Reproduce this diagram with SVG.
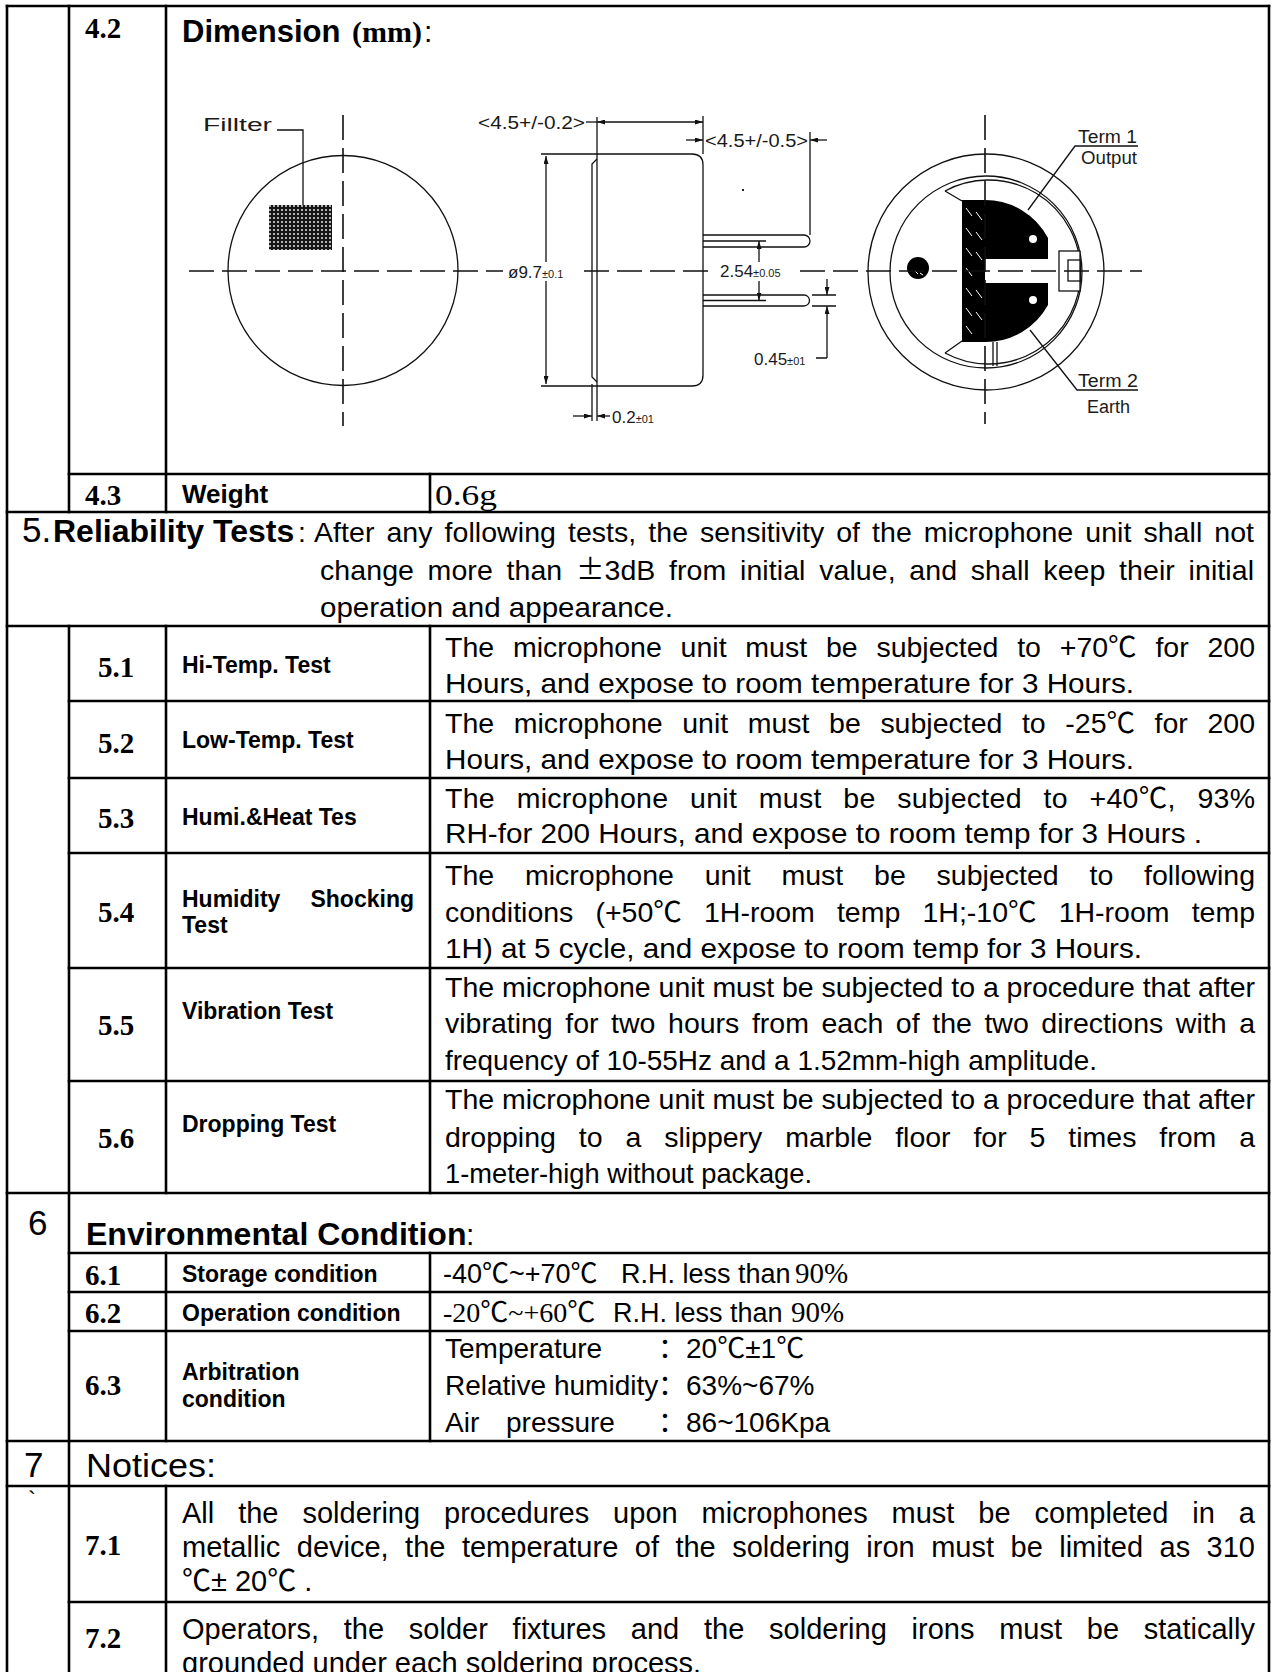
<svg xmlns="http://www.w3.org/2000/svg" width="1272" height="1672" viewBox="0 0 1272 1672">
<defs>
<style>
.grid{stroke:#000;stroke-width:2.6;fill:none;stroke-linecap:square}
.d{stroke:#111;stroke-width:1.3;fill:none}
.dash{stroke:#111;stroke-width:1.6;fill:none;stroke-dasharray:25 8}
.body{font-family:"Liberation Sans",Arial,sans-serif;font-size:28.5px;fill:#000}
.b7{font-family:"Liberation Sans",Arial,sans-serif;font-size:29px;fill:#000}
.val{font-family:"Liberation Sans",Arial,sans-serif;font-size:27px;fill:#000}
.ser{font-family:"Liberation Serif","Times New Roman",serif;font-size:28px;fill:#000}
.num{font-family:"Liberation Serif","Times New Roman",serif;font-weight:bold;font-size:29px;fill:#000}
.lab{font-family:"Liberation Sans",Arial,sans-serif;font-weight:bold;font-size:23px;fill:#000}
.head{font-family:"Liberation Sans",Arial,sans-serif;font-weight:bold;font-size:32px;fill:#000}
.big{font-family:"Liberation Sans",Arial,sans-serif;font-size:35px;fill:#000}
.cjk{font-family:"Noto Sans CJK SC",sans-serif}
.dt{font-family:"Liberation Sans",Arial,sans-serif;font-size:18px;fill:#1a1a1a}
.dn{font-family:"Liberation Sans",Arial,sans-serif;font-size:17px;fill:#1a1a1a}
.ds{font-size:11px}
</style>
<marker id="ar" viewBox="0 0 8 5" refX="8" refY="2.5" markerWidth="8" markerHeight="5" markerUnits="userSpaceOnUse" orient="auto"><path d="M0,0 L8,2.5 L0,5 Z" fill="#111"/></marker>
<pattern id="mesh" width="4" height="4" patternUnits="userSpaceOnUse"><rect width="4" height="4" fill="#151515"/><circle cx="2" cy="2" r="0.9" fill="#fff"/></pattern>
</defs>
<rect width="1272" height="1672" fill="#fff"/>

<g id="connectors">
<path class="grid" d="M7,6 H1269 M69,474 H1269 M7,512 H1269 M7,626 H1269 M69,701 H1269 M69,778 H1269 M69,853 H1269 M69,968 H1269 M69,1081 H1269 M7,1193 H1269 M69,1253 H1269 M69,1292 H1269 M69,1331 H1269 M7,1441 H1269 M7,1486 H1269 M69,1602 H1269"/>
<path class="grid" d="M7,6 V1672 M1269,6 V1672 M69,6 V512 M69,626 V1672 M166,6 V512 M166,626 V1193 M166,1253 V1441 M166,1486 V1672 M430,474 V512 M430,626 V1193 M430,1253 V1441"/>
</g>

<g id="row-4-2">
<text class="num" x="85" y="38">4.2</text>
<text x="182" y="42" style="font-family:'Liberation Sans',Arial,sans-serif;font-weight:bold;font-size:31px">Dimension</text>
<text x="352" y="42" style="font-family:'Liberation Serif','Times New Roman',serif;font-weight:bold;font-size:30px">(mm)</text>
<text x="424" y="42" style="font-family:'Liberation Sans',Arial,sans-serif;font-size:30px">:</text>
</g>

<g id="drawing-front">
<circle class="d" cx="343" cy="270.5" r="115"/>
<rect x="269" y="205" width="63" height="45" fill="url(#mesh)"/>
<polyline class="d" points="277,130 303,130 303,205"/>
<text class="dt" x="203" y="131" textLength="69" lengthAdjust="spacingAndGlyphs">Fillter</text>
<line class="dash" x1="343" y1="115" x2="343" y2="426"/>
</g>

<g id="drawing-side">
<path class="d" d="M541,154 H692 Q703,154 703,165 V375 Q703,386 692,386 H541"/>
<line class="d" x1="597" y1="117" x2="597" y2="421"/>
<path class="d" d="M597,159 L592,164 V377 L597,382"/>
<line class="d" x1="592" y1="384" x2="592" y2="421"/>
<line class="d" x1="703" y1="116" x2="703" y2="154"/>
<line class="d" x1="586" y1="122" x2="597" y2="122"/>
<line class="d" x1="650" y1="122" x2="597" y2="122" marker-end="url(#ar)"/>
<line class="d" x1="650" y1="122" x2="703" y2="122" marker-end="url(#ar)"/>
<text class="dt" x="478" y="129" textLength="107" lengthAdjust="spacingAndGlyphs">&lt;4.5+/-0.2&gt;</text>
<line class="d" x1="686" y1="140" x2="703" y2="140" marker-end="url(#ar)"/>
<line class="d" x1="827" y1="140" x2="810" y2="140" marker-end="url(#ar)"/>
<text class="dt" x="705" y="147" textLength="103" lengthAdjust="spacingAndGlyphs">&lt;4.5+/-0.5&gt;</text>
<line class="d" x1="810" y1="132" x2="810" y2="235"/>
<path class="d" d="M703,235 H804 A6,6 0 0 1 804,247 H703"/>
<path class="d" d="M703,295 H804 A5.5,5.5 0 0 1 804,306 H703"/>
<path class="d" d="M703,241 H766 M703,300.5 H766"/>
<line class="d" x1="759" y1="262" x2="759" y2="241" marker-end="url(#ar)"/>
<line class="d" x1="759" y1="281" x2="759" y2="300.5" marker-end="url(#ar)"/>
<text class="dn" x="720" y="277">2.54<tspan class="ds">±0.05</tspan></text>
<path class="d" d="M812,295 H836 M812,306 H836 M816,358 H827"/>
<line class="d" x1="827" y1="279" x2="827" y2="295" marker-end="url(#ar)"/>
<line class="d" x1="827" y1="358" x2="827" y2="306" marker-end="url(#ar)"/>
<text class="dn" x="754" y="365">0.45<tspan class="ds">±01</tspan></text>
<line class="d" x1="546" y1="262" x2="546" y2="156" marker-end="url(#ar)"/>
<line class="d" x1="546" y1="281" x2="546" y2="384" marker-end="url(#ar)"/>
<text class="dn" x="508" y="278">ø9.7<tspan class="ds">±0.1</tspan></text>
<line class="d" x1="573" y1="416" x2="592" y2="416" marker-end="url(#ar)"/>
<line class="d" x1="610" y1="416" x2="597" y2="416" marker-end="url(#ar)"/>
<text class="dn" x="612" y="423">0.2<tspan class="ds">±01</tspan></text>
<rect x="742" y="189" width="2" height="2" fill="#222"/>
</g>

<g id="drawing-back">
<circle class="d" cx="986" cy="272" r="118"/>
<circle class="d" cx="986" cy="272" r="96"/>
<path class="d" d="M945,191 A92,92 0 1 1 945,353"/>
<path class="d" d="M945,191 L962,201 M945,353 L962,341"/>
<path d="M962,200 H985 A71,71 0 0 1 1048,238 V259 H985 V283 H1048 V305 A71,71 0 0 1 985,342 H962 Z" fill="#000"/>
<g stroke="#fff" stroke-width="1">
<path d="M966,208 L972,216 M976,212 L982,220 M966,228 L972,236 M976,232 L982,240 M966,248 L972,256 M976,252 L982,260 M966,268 L972,276 M976,290 L982,298 M966,288 L972,296 M966,308 L972,316 M976,312 L982,320 M966,326 L972,334"/>
</g>
<circle cx="1033" cy="239" r="4" fill="#fff"/>
<circle cx="1033" cy="300" r="4" fill="#fff"/>
<circle cx="918" cy="268" r="11" fill="#000"/>
<path d="M915,271 l3,3 M920,273 l3,2" stroke="#fff" stroke-width="1"/>
<rect x="1059" y="251" width="21" height="40" fill="#fff" stroke="#111" stroke-width="1.3"/>
<rect x="1068" y="260" width="12" height="21" fill="#fff" stroke="#111" stroke-width="1.3"/>
<path class="d" d="M993,342 V366 M997,342 V366"/>
<line class="dash" x1="985" y1="115" x2="985" y2="424"/>
<polyline class="d" points="1028,210 1075,146 1138,146"/>
<polyline class="d" points="1030,330 1077,390 1138,390"/>
<text class="dt" x="1078" y="143" textLength="59" lengthAdjust="spacingAndGlyphs">Term 1</text>
<text class="dt" x="1081" y="164" textLength="56" lengthAdjust="spacingAndGlyphs">Output</text>
<text class="dt" x="1078" y="387" textLength="60" lengthAdjust="spacingAndGlyphs">Term 2</text>
<text class="dt" x="1087" y="413" textLength="43" lengthAdjust="spacingAndGlyphs">Earth</text>
</g>

<g id="centerline">
<path class="dash" d="M189,271 H503 M584,271 H716 M800,271 H1142"/>
</g>

<g id="row-4-3">
<text class="num" x="85" y="505">4.3</text>
<text x="182" y="503" style="font-family:'Liberation Sans',Arial,sans-serif;font-weight:bold;font-size:26px">Weight</text>
<text class="ser" x="435" y="505" style="font-size:30px" textLength="62" lengthAdjust="spacingAndGlyphs">0.6g</text>
</g>

<g id="row-5">
<text class="big" x="22" y="542">5.</text>
<text class="head" x="53" y="542">Reliability Tests</text>
<text class="body" x="298" y="542">:</text>
<text class="body" x="314" y="542" word-spacing="4" textLength="940" lengthAdjust="spacing">After any following tests, the sensitivity of the microphone unit shall not</text>
<text class="body" x="320" y="580" word-spacing="5.6" textLength="934" lengthAdjust="spacing">change more than <tspan class="cjk">±</tspan>3dB from initial value, and shall keep their initial</text>
<text class="body" x="320" y="617" textLength="353" lengthAdjust="spacingAndGlyphs">operation and appearance.</text>
</g>

<g id="row-5-1">
<text class="num" x="98" y="677">5.1</text>
<text class="lab" x="182" y="673">Hi-Temp. Test</text>
<text class="body" x="445" y="657" word-spacing="10.9" textLength="810" lengthAdjust="spacing">The microphone unit must be subjected to +70<tspan class="cjk">℃</tspan> for 200</text>
<text class="body" x="445" y="693" textLength="689" lengthAdjust="spacingAndGlyphs">Hours, and expose to room temperature for 3 Hours.</text>
</g>

<g id="row-5-2">
<text class="num" x="98" y="753">5.2</text>
<text class="lab" x="182" y="748">Low-Temp. Test</text>
<text class="body" x="445" y="733" word-spacing="11.7" textLength="810" lengthAdjust="spacing">The microphone unit must be subjected to -25<tspan class="cjk">℃</tspan> for 200</text>
<text class="body" x="445" y="769" textLength="689" lengthAdjust="spacingAndGlyphs">Hours, and expose to room temperature for 3 Hours.</text>
</g>

<g id="row-5-3">
<text class="num" x="98" y="828">5.3</text>
<text class="lab" x="182" y="825">Humi.&amp;Heat Tes</text>
<text class="body" x="445" y="808" word-spacing="13.5" textLength="810" lengthAdjust="spacing">The microphone unit must be subjected to +40<tspan class="cjk">℃</tspan>, 93%</text>
<text class="body" x="445" y="843" textLength="757" lengthAdjust="spacingAndGlyphs">RH-for 200 Hours, and expose to room temp for 3 Hours .</text>
</g>

<g id="row-5-4">
<text class="num" x="98" y="922">5.4</text>
<text class="lab" x="182" y="907">Humidity</text>
<text class="lab" x="414" y="907" text-anchor="end">Shocking</text>
<text class="lab" x="182" y="933">Test</text>
<text class="body" x="445" y="885" word-spacing="22.9" textLength="810" lengthAdjust="spacing">The microphone unit must be subjected to following</text>
<text class="body" x="445" y="922" word-spacing="14.2" textLength="810" lengthAdjust="spacing">conditions (+50<tspan class="cjk">℃</tspan> 1H-room temp 1H;-10<tspan class="cjk">℃</tspan> 1H-room temp</text>
<text class="body" x="445" y="958" textLength="697" lengthAdjust="spacingAndGlyphs">1H) at 5 cycle, and expose to room temp for 3 Hours.</text>
</g>

<g id="row-5-5">
<text class="num" x="98" y="1035">5.5</text>
<text class="lab" x="182" y="1019">Vibration Test</text>
<text class="body" x="445" y="997" textLength="810" lengthAdjust="spacing">The microphone unit must be subjected to a procedure that after</text>
<text class="body" x="445" y="1033" word-spacing="4.7" textLength="810" lengthAdjust="spacing">vibrating for two hours from each of the two directions with a</text>
<text class="body" x="445" y="1070" textLength="652" lengthAdjust="spacingAndGlyphs">frequency of 10-55Hz and a 1.52mm-high amplitude.</text>
</g>

<g id="row-5-6">
<text class="num" x="98" y="1148">5.6</text>
<text class="lab" x="182" y="1132">Dropping Test</text>
<text class="body" x="445" y="1109" textLength="810" lengthAdjust="spacing">The microphone unit must be subjected to a procedure that after</text>
<text class="body" x="445" y="1147" word-spacing="15" textLength="810" lengthAdjust="spacing">dropping to a slippery marble floor for 5 times from a</text>
<text class="body" x="445" y="1183" textLength="367" lengthAdjust="spacingAndGlyphs">1-meter-high without package.</text>
</g>

<g id="row-6">
<text class="big" x="28" y="1235">6</text>
<text class="head" x="86" y="1245">Environmental Condition</text>
<text x="466" y="1245" style="font-family:'Liberation Sans',Arial,sans-serif;font-size:30px">:</text>
</g>

<g id="row-6-1">
<text class="num" x="85" y="1285">6.1</text>
<text class="lab" x="182" y="1282">Storage condition</text>
<text class="val" x="443" y="1283">-40<tspan class="cjk">℃</tspan>~+70<tspan class="cjk">℃</tspan></text>
<text class="val" x="621" y="1283">R.H. less than</text>
<text class="ser" x="795" y="1283" style="font-size:29px">90%</text>
</g>

<g id="row-6-2">
<text class="num" x="85" y="1323">6.2</text>
<text class="lab" x="182" y="1321">Operation condition</text>
<text class="ser" x="443" y="1322">-20<tspan class="cjk">℃</tspan>~+60<tspan class="cjk">℃</tspan></text>
<text class="val" x="613" y="1322">R.H. less than</text>
<text class="ser" x="791" y="1322" style="font-size:29px">90%</text>
</g>

<g id="row-6-3">
<text class="num" x="85" y="1395">6.3</text>
<text class="lab" x="182" y="1380">Arbitration</text>
<text class="lab" x="182" y="1407">condition</text>
<text class="val" x="445" y="1358" style="font-size:28px">Temperature</text>
<text class="val cjk" x="658" y="1358" style="font-size:28px">：</text>
<text class="val" x="686" y="1358" style="font-size:28px">20<tspan class="cjk">℃</tspan>±1<tspan class="cjk">℃</tspan></text>
<text class="val" x="445" y="1395" style="font-size:28px">Relative humidity</text>
<text class="val cjk" x="658" y="1395" style="font-size:28px">：</text>
<text class="val" x="686" y="1395" style="font-size:28px">63%~67%</text>
<text class="val" x="445" y="1432" style="font-size:28px">Air</text>
<text class="val" x="506" y="1432" style="font-size:28px">pressure</text>
<text class="val cjk" x="658" y="1432" style="font-size:28px">：</text>
<text class="val" x="686" y="1432" style="font-size:28px">86~106Kpa</text>
</g>

<g id="row-7">
<text class="big" x="24" y="1477">7</text>
<text x="86" y="1477" style="font-family:'Liberation Sans',Arial,sans-serif;font-size:34px" textLength="130" lengthAdjust="spacingAndGlyphs">Notices:</text>
</g>

<g id="row-7-1">
<text x="28" y="1508" style="font-family:'Liberation Sans',Arial,sans-serif;font-size:24px">`</text>
<text class="num" x="85" y="1555">7.1</text>
<text class="b7" x="182" y="1523" word-spacing="15.9" textLength="1073" lengthAdjust="spacing">All the soldering procedures upon microphones must be completed in a</text>
<text class="b7" x="182" y="1557" word-spacing="8.4" textLength="1073" lengthAdjust="spacing">metallic device, the temperature of the soldering iron must be limited as 310</text>
<text class="b7" x="182" y="1591"><tspan class="cjk">℃</tspan>± 20<tspan class="cjk">℃</tspan> .</text>
</g>

<g id="row-7-2">
<text class="num" x="85" y="1648">7.2</text>
<text class="b7" x="182" y="1639" word-spacing="16.7" textLength="1073" lengthAdjust="spacing">Operators, the solder fixtures and the soldering irons must be statically</text>
<text class="b7" x="182" y="1673">grounded under each soldering process.</text>
</g>
</svg>
